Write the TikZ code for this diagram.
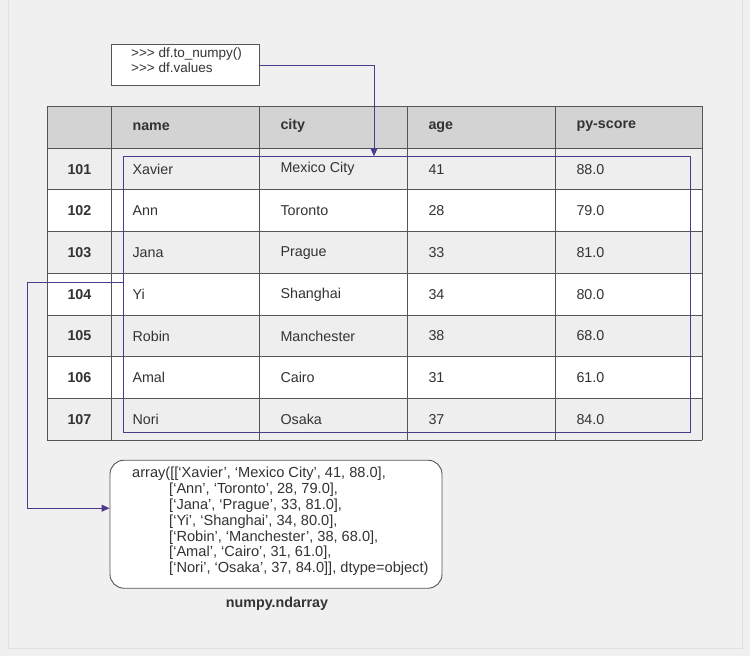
\documentclass[tikz,border=0pt]{standalone}
\usepackage{fontspec}
\setmainfont{Liberation Sans}
\usetikzlibrary{arrows.meta}
\definecolor{bg}{HTML}{F0F0F0}
\definecolor{hdr}{HTML}{D3D3D3}
\definecolor{rowg}{HTML}{EEEEEE}
\definecolor{pur}{HTML}{4E3A8C}
\definecolor{ln}{HTML}{555555}
\begin{document}
\begin{tikzpicture}[x=1pt,y=-1pt,
  cell/.style={anchor=west,font=\fontsize{14.3}{16}\selectfont,text=black!80},
  hcell/.style={cell,font=\fontsize{14.3}{16}\selectfont\bfseries},
  conn/.style={pur,line width=1pt,-{Triangle[length=8pt,width=7pt]}}]
\fill[bg] (0,0) rectangle (750,656);
\draw[black!12] (8,0) -- (8,648) -- (742,648) -- (742,0);
% rows
\fill[hdr] (47,106) rectangle (702,148);
\foreach \i/\c in {0/rowg,1/white,2/rowg,3/white,4/rowg,5/white,6/rowg}{
  \fill[\c] (47,{148+41.7*\i}) rectangle (702,{148+41.7*(\i+1)});
}
\foreach \y in {106,148,189.7,231.4,273.1,314.8,356.5,398.2,440}
  \draw[ln,line width=0.9pt] (47,\y) -- (702,\y);
\foreach \x in {47,111,259,407,555,702}
  \draw[ln,line width=0.9pt] (\x,106) -- (\x,440);
\node[hcell] (hname) at (129,127) {name};
\node[hcell] (hcity) at (277,126) {city};
\node[hcell] (hage) at (425,127) {age};
\node[hcell] (hscore) at (573,126) {py-score};
\foreach \i/\idx/\n/\c/\a/\s in {0/101/Xavier/Mexico City/41/88.0,1/102/Ann/Toronto/28/79.0,2/103/Jana/Prague/33/81.0,3/104/Yi/Shanghai/34/80.0,4/105/Robin/Manchester/38/68.0,5/106/Amal/Cairo/31/61.0,6/107/Nori/Osaka/37/84.0}{
  \pgfmathsetmacro\yy{169+41.7*\i}
  \node[hcell] (r\idx) at (64,\yy) {\idx};
  \node[cell] (n\idx) at (129,\yy) {\n};
  \node[cell] (c\idx) at (277,\yy) {\c};
  \node[cell] (a\idx) at (425,\yy) {\a};
  \node[cell] (s\idx) at (573,\yy) {\s};
}
% selection rectangle
\node[draw=pur,line width=1pt,minimum width=567pt,minimum height=276pt,inner sep=0pt] (sel) at (406.5,294) {};
% top code box
\node[draw=ln,fill=white,line width=0.9pt,minimum width=148pt,minimum height=41pt,inner sep=0pt] (code) at (185,64.5) {};
\node[anchor=north west,align=left,font=\fontsize{13.5}{15.5}\selectfont,text=black!80,inner sep=0pt] (codetxt) at (131,47) {>{}>{}> df.to\_numpy()\\>{}>{}> df.values};
\coordinate (selTop) at (374,156);
\draw[conn] (code.east |- 0,65) -| (selTop);
% array box
\node[draw=ln,fill=white,line width=0.9pt,rounded corners=14pt,minimum width=332pt,minimum height=128pt,inner sep=0pt] (arr) at (276,524) {};
\node[anchor=north west,align=left,font=\fontsize{14.6}{15.8}\selectfont,text=black!80,inner sep=0pt] (arrtxt) at (132,467) {array([[‘Xavier’, ‘Mexico City’, 41, 88.0],\\
\hspace{37pt}[‘Ann’, ‘Toronto’, 28, 79.0],\\
\hspace{37pt}[‘Jana’, ‘Prague’, 33, 81.0],\\
\hspace{37pt}[‘Yi’, ‘Shanghai’, 34, 80.0],\\
\hspace{37pt}[‘Robin’, ‘Manchester’, 38, 68.0],\\
\hspace{37pt}[‘Amal’, ‘Cairo’, 31, 61.0],\\
\hspace{37pt}[‘Nori’, ‘Osaka’, 37, 84.0]], dtype=object)};
\node[font=\fontsize{14.3}{16}\selectfont\bfseries,text=black!80] (lbl) at (277,604) {numpy.ndarray};
\draw[conn] (sel.west |- 0,282) -- (27,282) |- (arr.west |- 0,508);
\end{tikzpicture}
\end{document}
